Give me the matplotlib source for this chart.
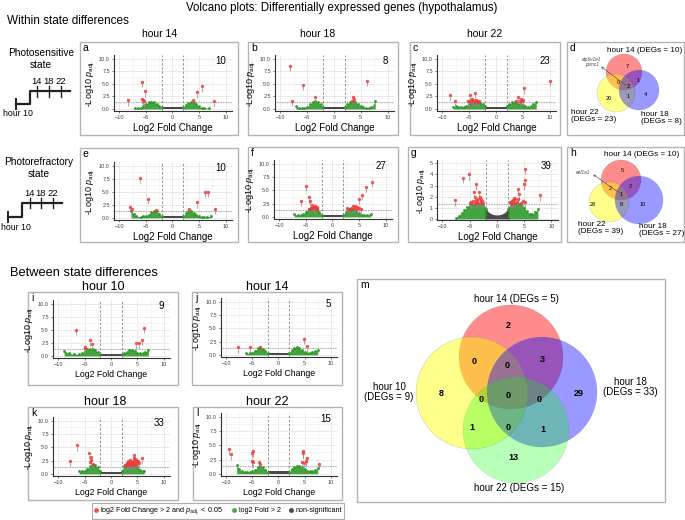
import matplotlib
matplotlib.use('Agg')
import matplotlib.pyplot as plt
from matplotlib.patches import Rectangle, Circle
from matplotlib.lines import Line2D

plt.rcParams['font.family'] = ['Liberation Sans', 'DejaVu Sans']
plt.rcParams['mathtext.fontset'] = 'custom'
plt.rcParams['mathtext.rm'] = 'Liberation Sans'
plt.rcParams['mathtext.it'] = 'Liberation Sans:italic'

# ---- volcano data ----
a_red_x = [-8.4, -5.8, -5.1, -5.8, -5.3, -5.5, 4.7, 5.6, 3.8, 7.9]
a_red_y = [1.7, 5.3, 3.5, 2.0, 1.5, 1.7, 3.3, 4.5, 1.8, 1.5]
a_gl_x = [-7.1, -6.5, -6.0, -5.5, -5.0, -4.5, -4.0, -3.5, -3.0, -2.5, -2.0]
a_gl_y = [0.2, 0.2, 0.25, 0.6, 1.0, 1.3, 1.4, 1.3, 1.0, 0.6, 0.3]
a_gr_x = [2.0, 2.5, 3.0, 3.5, 4.0, 4.5, 5.0, 5.5, 6.0, 6.9]
a_gr_y = [0.3, 0.8, 1.1, 1.4, 1.3, 0.9, 0.5, 0.25, 0.2, 0.2]

b_red_x = [-8.2, -5.7, -7.8, -3.6, 6.2, 3.6, 3.7, 3.4]
b_red_y = [8.6, 4.8, 1.6, 2.3, 5.6, 2.3, 2.0, 1.6]
b_gl_x = [-7.1, -6.5, -6.0, -5.5, -5.0, -4.5, -4.0, -3.5, -3.0, -2.5, -2.0]
b_gl_y = [0.6, 0.2, 0.2, 0.25, 0.4, 0.9, 1.3, 1.5, 1.3, 0.9, 0.4]
b_gr_x = [2.0, 2.5, 3.0, 3.5, 4.0, 4.5, 5.0, 5.5, 6.0, 6.5, 7.0, 7.7]
b_gr_y = [0.4, 1.0, 1.4, 1.5, 1.3, 0.9, 0.6, 0.3, 0.25, 0.25, 0.4, 1.5]

c_red_x = [10.0, -4.9, -4.0, 5.2, -4.5, -3.6, -8.5, -7.6, 4.1, 4.6, 5.1, -5.0,
           -4.7, -4.2, -3.9, -3.4, -3.1, -4.4, 3.8, 4.4, -5.3, -3.7, 4.9]
c_red_y = [5.5, 2.7, 3.2, 4.1, 1.8, 1.5, 2.7, 1.5, 2.3, 1.9, 1.8, 1.6,
           1.4, 1.7, 1.5, 1.4, 1.5, 2.0, 1.6, 1.5, 1.5, 1.8, 1.5]
c_gl_x = [-8.0, -7.5, -7.0, -6.5, -6.0, -5.5, -5.0, -4.5, -4.0, -3.5, -3.0, -2.5, -2.0]
c_gl_y = [0.3, 0.5, 0.4, 0.3, 0.4, 0.6, 0.9, 1.2, 1.3, 1.3, 1.2, 0.9, 0.5]
c_gr_x = [2.0, 2.5, 3.0, 3.5, 4.0, 4.5, 5.0, 5.5, 6.0, 6.5, 7.0, 7.5]
c_gr_y = [0.5, 1.0, 1.3, 1.3, 1.2, 1.0, 0.7, 0.5, 0.4, 0.5, 0.9, 1.4]

e_red_x = [-6.1, -4.6, -8.0, -7.6, -3.1, 6.1, 6.7, 4.7, 3.2, 8.0]
e_red_y = [7.7, 3.6, 2.1, 1.7, 1.5, 5.0, 5.0, 3.0, 1.7, 1.7]
e_gl_x = [-7.8, -7.3, -6.8, -6.0, -5.5, -5.0, -4.5, -4.0, -3.5, -3.0, -2.5, -2.0]
e_gl_y = [1.3, 0.8, 0.3, 0.25, 0.3, 0.4, 0.6, 1.1, 1.4, 1.3, 0.8, 0.3]
e_gr_x = [2.0, 2.5, 3.0, 3.5, 4.0, 4.5, 5.0, 5.5, 6.0, 6.5, 7.2]
e_gr_y = [0.3, 0.9, 1.3, 1.3, 1.0, 0.6, 0.35, 0.25, 0.25, 0.25, 0.3]

f_red_x = [-5.0, -5.9, -4.5, -4.2, -3.25, -3.75, -2.9, -4.1, -3.5, -3.0, -4.4, -3.8, -3.3,
           7.5, 6.4, 5.6, 5.0, 3.9, 4.7, 4.9, 2.8, 4.3, 3.5, 4.6, 3.1, 4.0, 5.3]
f_red_y = [5.8, 3.0, 3.7, 3.0, 2.1, 1.9, 1.9, 1.6, 1.8, 1.5, 1.5, 2.2, 1.6,
           6.6, 5.7, 4.2, 3.4, 2.1, 1.9, 1.6, 1.6, 2.0, 1.5, 1.5, 1.4, 1.7, 1.5]
f_gl_x = [-7.2, -6.5, -6.0, -5.5, -5.0, -4.5, -4.0, -3.5, -3.0, -2.5, -2.0]
f_gl_y = [0.5, 0.3, 0.3, 0.5, 1.0, 1.5, 1.7, 1.6, 1.4, 1.0, 0.4]
f_gr_x = [2.0, 2.5, 3.0, 3.5, 4.0, 4.5, 5.0, 5.5, 6.0, 6.5, 7.2]
f_gr_y = [0.4, 1.0, 1.5, 1.6, 1.4, 1.1, 0.7, 0.4, 0.3, 0.35, 0.6]

g_red_x = [-6.2, -5.15, -7.75, -3.8, -4.25, -3.3, -4.1, -3.2, -3.5, -3.9, -2.8, -4.7, -3.0,
           -4.4, -3.6, -2.6, -4.0, -3.4, -5.0, -2.9,
           5.15, 5.1, 5.0, 3.9, 4.1, 3.15, 3.3, 2.7, 4.7, 7.9, 2.4, 3.0, 3.6, 2.9, 4.4,
           3.4, 2.6, 5.2, 3.8]
g_red_y = [3.7, 4.0, 1.7, 3.1, 2.4, 2.4, 1.95, 1.95, 1.8, 1.7, 1.65, 1.5, 1.5,
           1.6, 1.55, 1.45, 1.4, 1.4, 1.45, 1.75,
           4.5, 3.5, 3.1, 2.7, 2.2, 1.9, 1.75, 1.6, 1.6, 2.15, 1.5, 1.45, 1.55, 1.7, 1.45,
           1.4, 1.4, 1.5, 1.8]
g_gl_x = [-7.6, -7.0, -6.5, -6.0, -5.5, -5.0, -4.5, -4.0, -3.5, -3.0, -2.5, -2.0]
g_gl_y = [0.1, 0.3, 0.55, 0.8, 1.05, 1.3, 1.35, 1.35, 1.35, 1.3, 1.25, 0.9]
g_gr_x = [2.0, 2.5, 3.0, 3.5, 4.0, 4.5, 5.0, 5.5, 6.0, 6.5, 7.0, 7.5]
g_gr_y = [0.9, 1.25, 1.3, 1.35, 1.35, 1.3, 1.0, 0.7, 0.45, 0.4, 0.6, 0.9]
g_grey_x = [-2.3, -2.0, -1.5, -1.0, -0.5, 0.0, 0.5, 1.0, 1.5, 2.0, 2.3]
g_grey_y = [1.2, 0.9, 0.6, 0.45, 0.38, 0.35, 0.38, 0.45, 0.6, 0.9, 1.2]

i_red_x = [-6.7, -4.05, -3.6, -4.85, -4.9, 6.2, 5.9, 5.4, 4.8]
i_red_y = [5.0, 3.0, 2.25, 1.75, 1.5, 5.4, 3.1, 2.4, 2.4]
i_gl_x = [-8.9, -8.0, -7.0, -6.0, -5.5, -5.0, -4.5, -4.0, -3.5, -3.0, -2.5, -2.0]
i_gl_y = [1.0, 0.5, 0.35, 0.35, 0.5, 0.9, 1.3, 1.4, 1.3, 1.1, 0.7, 0.3]
i_gr_x = [2.0, 2.5, 3.0, 3.5, 4.0, 4.5, 5.0, 5.5, 6.0, 6.5, 7.1]
i_gr_y = [0.3, 0.5, 0.8, 1.1, 1.2, 1.0, 0.6, 0.5, 0.6, 0.8, 1.1]

j_red_x = [-7.8, -5.45, -3.6, 4.9, 5.4]
j_red_y = [1.4, 1.5, 1.4, 3.0, 1.6]
j_gl_x = [-6.2, -5.5, -5.0, -4.5, -4.0, -3.5, -3.0, -2.5, -2.0]
j_gl_y = [0.3, 0.3, 0.4, 0.8, 1.2, 1.3, 1.1, 0.7, 0.3]
j_gr_x = [2.0, 2.5, 3.0, 3.5, 4.0, 4.5, 5.0, 5.5, 6.0, 6.5, 7.0, 7.5]
j_gr_y = [0.3, 0.9, 1.3, 1.4, 1.2, 0.9, 0.6, 0.4, 0.4, 0.5, 0.7, 0.9]

k_red_x = [-6.5, -7.8, -4.2, -3.8, -3.8, -4.0, -3.5,
           3.2, 3.65, 4.45, 4.3, 5.8, 5.1, 3.0, 3.4, 3.9, 4.2, 4.6, 4.9, 3.1, 3.5, 4.0,
           4.4, 4.8, 5.3, 2.8, 3.3, 3.7, 4.1, 4.5, 4.7, 2.6, 3.6]
k_red_y = [5.4, 2.4, 3.9, 3.2, 2.7, 2.2, 1.9,
           2.4, 2.6, 3.5, 3.0, 2.9, 2.4, 2.0, 2.1, 2.3, 2.5, 2.8, 2.2, 1.8, 1.9, 2.0,
           2.1, 1.9, 2.0, 1.7, 1.7, 1.8, 1.8, 1.7, 2.6, 1.6, 1.6]
k_gl_x = [-6.0, -5.5, -5.0, -4.5, -4.0, -3.5, -3.0, -2.5, -2.0]
k_gl_y = [0.6, 0.5, 0.6, 0.9, 1.5, 1.7, 1.6, 1.2, 0.6]
k_gr_x = [2.0, 2.5, 3.0, 3.5, 4.0, 4.5, 5.0, 5.5, 6.0, 6.3]
k_gr_y = [0.6, 1.4, 1.9, 2.0, 1.9, 1.7, 1.3, 0.8, 0.6, 0.6]

l_red_x = [-9.55, -9.1, -5.05, -4.85, -5.05, -3.8, -3.6, 4.6, 4.5, 4.9, 5.5, 7.7, 4.7, -4.9, 5.3]
l_red_y = [4.3, 3.4, 3.7, 4.0, 2.2, 2.0, 1.8, 4.0, 2.0, 1.9, 2.8, 1.8, 3.6, 2.0, 2.3]
l_gl_x = [-8.0, -7.5, -7.0, -6.5, -6.0, -5.5, -5.0, -4.5, -4.0, -3.5, -3.0, -2.5, -2.0]
l_gl_y = [1.6, 0.8, 0.4, 0.3, 0.3, 0.3, 0.4, 0.7, 1.1, 1.3, 1.1, 0.7, 0.3]
l_gr_x = [2.0, 2.5, 3.0, 3.5, 4.0, 4.5, 5.0, 5.5, 6.0, 6.5, 7.0, 7.5]
l_gr_y = [0.3, 0.8, 1.2, 1.3, 1.3, 1.1, 0.8, 0.5, 0.4, 0.4, 0.6, 1.0]

grey_x = [-2.0, 2.0]
grey_y = [0.4, 0.4]

deg_counts = {'a': 10, 'b': 8, 'c': 23, 'e': 10, 'f': 27, 'g': 39,
              'i': 9, 'j': 5, 'k': 33, 'l': 15}

# venn counts
d_counts = [7, 1, 0, 2, 1, 20, 4]
h_counts = [5, 2, 2, 1, 28, 8, 10]
m_counts = [2, 0, 0, 3, 8, 0, 0, 0, 29, 1, 0, 1, 13]

GREEN = '#2f9a2a'
RED = '#f03a3a'
GREY = '#4a4a4a'

W, H = 685, 520
fig = plt.figure(figsize=(6.85, 5.2), dpi=100)
canvas = fig.add_axes([0, 0, 1, 1])
canvas.set_xlim(0, W)
canvas.set_ylim(H, 0)
canvas.axis('off')


def px_axes(l, t, r, b):
    return fig.add_axes([l / W, 1 - b / H, (r - l) / W, (b - t) / H])


def box(l, t, r, b, letter=None):
    canvas.add_patch(Rectangle((l, t), r - l, b - t, fill=False, ec='#b4b4b4', lw=1))
    if letter:
        canvas.text(l + 3, t + 6, letter, fontsize=7.5, va='center', ha='left')


def volcano(rect, n, rx, ry, glx, gly, grx, gry, gx=grey_x, gy=grey_y,
            ymax=10, lower=False):
    ax = px_axes(*rect)
    ax.set_zorder(2)
    ax.set_facecolor('white')
    ax.fill_between(gx, 0, gy, color=GREY, lw=0, zorder=2)
    for xs, ys in ((glx, gly), (grx, gry)):
        ax.fill_between(xs, 0, ys, color=GREEN, lw=0, alpha=0.9, zorder=3)
        ax.scatter(xs, ys, s=4, color=GREEN, lw=0, zorder=3)
    yr = ymax * 1.07
    ax.scatter(rx, [v - yr * 0.06 for v in ry], marker='|', s=5, color='#888888',
               lw=0.5, zorder=4)
    ax.scatter(rx, ry, s=6, color=RED, lw=0, alpha=0.85, zorder=5)
    ax.axvline(-2, color='#888888', lw=0.6, ls=(0, (3, 2)), zorder=1)
    ax.axvline(2, color='#888888', lw=0.6, ls=(0, (3, 2)), zorder=1)
    ax.axhline(1.3, color='#888888', lw=0.6, ls=(0, (1, 1)), zorder=1)
    ax.set_xlim(-11, 11.2)
    if ymax == 10:
        ax.set_ylim(-0.4, 10.7)
        ax.set_yticks([0, 2.5, 5, 7.5, 10])
        ax.set_yticklabels(['0.0', '2.5', '5.0', '7.5', '10.0'])
        ax.set_yticks([1.25, 3.75, 6.25, 8.75], minor=True)
    else:
        ax.set_ylim(-0.1, 5.3)
        ax.set_yticks([0, 1, 2, 3, 4, 5])
        ax.set_yticks([0.5, 1.5, 2.5, 3.5, 4.5], minor=True)
    ax.set_xticks([-10, -5, 0, 5, 10])
    ax.set_xticks([-7.5, -2.5, 2.5, 7.5], minor=True)
    ax.grid(True, which='major', color='#e6e6e6', lw=0.6, zorder=0)
    ax.grid(True, which='minor', color='#f2f2f2', lw=0.5, zorder=0)
    ax.set_axisbelow(True)
    for s in ('top', 'right'):
        ax.spines[s].set_visible(False)
    for s in ('left', 'bottom'):
        ax.spines[s].set_color('#333333')
        ax.spines[s].set_linewidth(0.8)
    ax.tick_params(which='major', labelsize=4, length=1.5, width=0.5, pad=1.5,
                   colors='#444444')
    ax.tick_params(which='minor', length=0)
    ax.set_ylabel(r'-Log10 $p_{\mathrm{adj.}}$', fontsize=6.5, labelpad=1.5)
    ax.set_xlabel('Log2 Fold Change', fontsize=6.3 if lower else 7, labelpad=2)
    ax.text(0.95, 0.98, str(n), transform=ax.transAxes, ha='right', va='top',
            fontsize=7)
    return ax


# headings
canvas.text(342, 8, 'Volcano plots: Differentially expressed genes (hypothalamus)',
            fontsize=8.3, ha='center', va='center')
canvas.text(7, 21, 'Within state differences', fontsize=8.5, ha='left', va='center')
for x, t in ((160, 'hour 14'), (318, 'hour 18'), (485, 'hour 22')):
    canvas.text(x, 34, t, fontsize=7.5, ha='center', va='center')
canvas.text(10, 273, 'Between state differences', fontsize=9.3, ha='left', va='center')
for x, y, t in ((103, 287, 'hour 10'), (267, 287, 'hour 14'),
                (105, 402, 'hour 18'), (267, 402, 'hour 22')):
    canvas.text(x, y, t, fontsize=9, ha='center', va='center')

# state diagrams
canvas.text(41, 59, 'Photosensitive\nstate', fontsize=7.3, ha='center', va='center',
            linespacing=1.2)
canvas.plot([16, 16], [99, 109], color='#222222', lw=1.4)
canvas.plot([16, 30, 30, 70], [104, 104, 91, 91], color='#222222', lw=1.6)
for x, t in ((37, '14'), (49, '18'), (61, '22')):
    canvas.plot([x, x], [86, 97], color='#222222', lw=1.0)
    canvas.text(x, 82, t, fontsize=6.8, ha='center', va='center')
canvas.text(18, 113, 'hour 10', fontsize=6.3, ha='center', va='center')

canvas.text(39, 168, 'Photorefractory\nstate', fontsize=7.3, ha='center', va='center',
            linespacing=1.2)
canvas.plot([8, 8], [212, 222], color='#222222', lw=1.4)
canvas.plot([8, 22, 22, 62], [217, 217, 203, 203], color='#222222', lw=1.6)
for x, t in ((30, '14'), (41, '18'), (53, '22')):
    canvas.plot([x, x], [198, 208], color='#222222', lw=1.0)
    canvas.text(x, 194, t, fontsize=6.8, ha='center', va='center')
canvas.text(1, 227, 'hour 10', fontsize=6.3, ha='left', va='center')

# panel boxes
box(80, 42, 238, 135, 'a')
box(248, 42, 398, 135, 'b')
box(410, 42, 560, 135, 'c')
box(567, 42, 684, 135, 'd')
box(80, 148, 238, 242, 'e')
box(248, 147, 398, 242, 'f')
box(408, 147, 561, 242, 'g')
box(567, 147, 684, 242, 'h')
box(28, 292, 178, 385, 'i')
box(192, 292, 342, 385, 'j')
box(28, 407, 178, 500, 'k')
box(193, 407, 342, 500, 'l')
box(357, 279, 665, 502, 'm')

volcano((114, 55, 232, 111), deg_counts['a'], a_red_x, a_red_y, a_gl_x, a_gl_y, a_gr_x, a_gr_y)
volcano((275, 55, 394, 111), deg_counts['b'], b_red_x, b_red_y, b_gl_x, b_gl_y, b_gr_x, b_gr_y)
volcano((437, 55, 556, 111), deg_counts['c'], c_red_x, c_red_y, c_gl_x, c_gl_y, c_gr_x, c_gr_y)
volcano((114, 162, 232, 220), deg_counts['e'], e_red_x, e_red_y, e_gl_x, e_gl_y, e_gr_x, e_gr_y)
volcano((274, 160, 392, 219), deg_counts['f'], f_red_x, f_red_y, f_gl_x, f_gl_y, f_gr_x, f_gr_y)
volcano((437, 160, 558, 220), deg_counts['g'], g_red_x, g_red_y, g_gl_x, g_gl_y, g_gr_x, g_gr_y,
        gx=g_grey_x, gy=g_grey_y, ymax=5)
volcano((53, 300, 170, 358), deg_counts['i'], i_red_x, i_red_y, i_gl_x, i_gl_y, i_gr_x, i_gr_y,
        lower=True)
volcano((221, 298, 337, 357), deg_counts['j'], j_red_x, j_red_y, j_gl_x, j_gl_y, j_gr_x, j_gr_y,
        lower=True)
volcano((53, 417, 170, 476), deg_counts['k'], k_red_x, k_red_y, k_gl_x, k_gl_y, k_gr_x, k_gr_y,
        lower=True)
volcano((221, 413, 337, 476), deg_counts['l'], l_red_x, l_red_y, l_gl_x, l_gl_y, l_gr_x, l_gr_y,
        lower=True)


def venn(circles, counts, pos, fs, bold=False):
    for cx, cy, r, col, a in circles:
        canvas.add_patch(Circle((cx, cy), r, fc=col, alpha=a, ec='#777777', lw=0.3))
    for n, (x, y) in zip(counts, pos):
        canvas.text(x, y, str(n), fontsize=fs, ha='center', va='center',
                    fontweight='bold' if bold else 'normal')


# d
venn([(624, 72, 18, '#ff0000', 0.45), (616, 93, 19, '#ffff00', 0.45),
      (639, 90, 20, '#0000ff', 0.4)],
     d_counts, [(627, 66), (638, 80), (618, 83), (628, 87), (628, 97), (609, 98), (645, 95)],
     4)
canvas.text(645, 50, 'hour 14 (DEGs = 10)', fontsize=5.9, ha='center', va='center')
canvas.text(571, 116, 'hour 22\n(DEGs = 23)', fontsize=5.9, ha='left', va='center',
            linespacing=1.1)
canvas.text(641, 118, 'hour 18\n(DEGs = 8)', fontsize=5.9, ha='left', va='center',
            linespacing=1.1)
canvas.text(592, 62, 'atp6v1e1\npsmc1', fontsize=3.3, ha='center', va='center',
            style='italic', color='#444444', linespacing=1.0)
canvas.annotate('', xy=(599, 65), xytext=(628, 87),
                arrowprops=dict(arrowstyle='->', lw=0.4, color='#444444',
                                mutation_scale=4))

# h
venn([(621, 180, 20, '#ff0000', 0.45), (609, 202, 20, '#ffff00', 0.45),
      (639, 200, 24, '#0000ff', 0.4)],
     h_counts, [(622, 171), (610, 188), (630, 187), (621, 194), (593, 205), (621, 205),
                (643, 205)], 4)
canvas.text(642, 154, 'hour 14 (DEGs = 10)', fontsize=5.9, ha='center', va='center')
canvas.text(578, 228, 'hour 22\n(DEGs = 39)', fontsize=5.9, ha='left', va='center',
            linespacing=1.1)
canvas.text(639, 230, 'hour 18\n(DEGs = 27)', fontsize=5.9, ha='left', va='center',
            linespacing=1.1)
canvas.text(583, 172, 'eef1a1', fontsize=3.3, ha='center', va='center', style='italic',
            color='#444444')
canvas.annotate('', xy=(591, 173), xytext=(621, 194),
                arrowprops=dict(arrowstyle='->', lw=0.4, color='#444444',
                                mutation_scale=4))

# m
venn([(511, 357, 52, '#ff0000', 0.45), (472, 393, 56, '#ffff00', 0.45),
      (542, 392, 55, '#0000ff', 0.4), (516, 430, 53, '#00ff00', 0.28)],
     m_counts, [(508, 326), (474, 362), (507, 366), (542, 359), (441, 393), (481, 399),
                (508, 396), (539, 399), (579, 394), (472, 427), (508, 427), (543, 430),
                (513, 458)], 6.5, bold=True)
canvas.text(516, 299, 'hour 14 (DEGs = 5)', fontsize=7, ha='center', va='center')
canvas.text(389, 392, 'hour 10\n(DEGs = 9)', fontsize=7, ha='center', va='center',
            linespacing=1.1)
canvas.text(630, 387, 'hour 18\n(DEGs = 33)', fontsize=7, ha='center', va='center',
            linespacing=1.1)
canvas.text(519, 488, 'hour 22 (DEGs = 15)', fontsize=7, ha='center', va='center')

# legend
handles = [Line2D([], [], marker='o', ls='', color=RED, markersize=2.5, alpha=0.8),
           Line2D([], [], marker='o', ls='', color=GREEN, markersize=2.5, alpha=0.8),
           Line2D([], [], marker='o', ls='', color=GREY, markersize=2.5)]
labels = [r'log2 Fold Change > 2 and $p_{\mathrm{adj.}}$ < 0.05', 'log2 Fold > 2',
          'non-significant']
leg = fig.legend(handles, labels, loc='center', bbox_to_anchor=(218 / W, 1 - 511 / H),
                 ncol=3, fontsize=5.2, frameon=True, fancybox=False, handlelength=0.6,
                 handletextpad=0.3, columnspacing=1.2, borderpad=0.3)
leg.get_frame().set_edgecolor('#999999')
leg.get_frame().set_linewidth(0.8)

fig.savefig('out.png', dpi=100)
